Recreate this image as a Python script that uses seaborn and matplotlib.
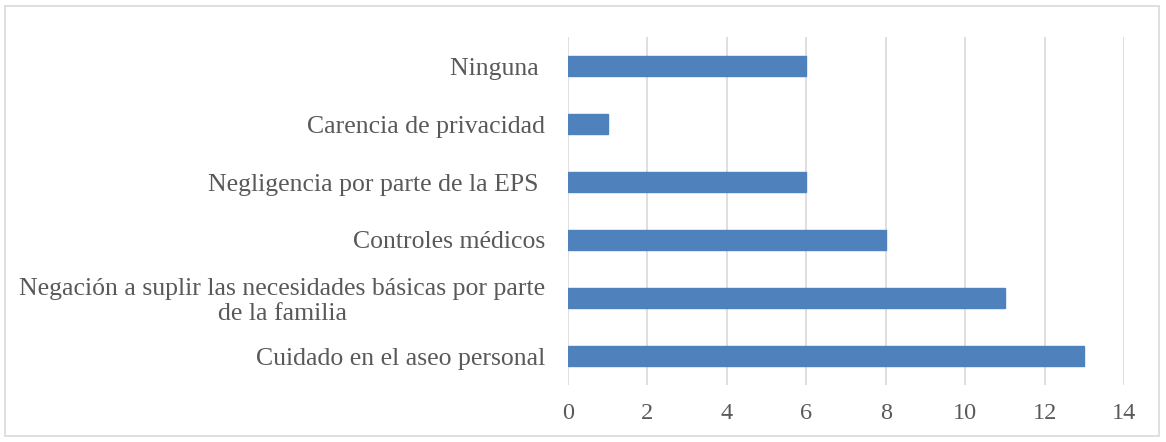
import matplotlib
matplotlib.use("Agg")
import matplotlib.pyplot as plt
import seaborn as sns
import pandas as pd
from matplotlib.patches import Rectangle

categories = [
    "Ninguna ",
    "Carencia de privacidad",
    "Negligencia por parte de la EPS ",
    "Controles médicos",
    "Negación a suplir las necesidades básicas por parte\nde la familia",
    "Cuidado en el aseo personal",
]
values = [6, 1, 6, 8, 11, 13]
x_ticks = [0, 2, 4, 6, 8, 10, 12, 14]

sns.set_theme(style="white")
plt.rcParams['font.family'] = ['Liberation Serif', 'DejaVu Serif']

df = pd.DataFrame({"cat": categories, "val": values})

fig = plt.figure(figsize=(11.66, 4.42), dpi=100)
ax = fig.add_axes([568/1166, 1-385/442, (1124-568)/1166, (385-37)/442])

sns.barplot(data=df, y="cat", x="val", orient="h", color="#4f81bd",
            width=0.345, saturation=1, ax=ax, edgecolor="#4f81bd")

ax.set_xlim(0, 14)
ax.set_xticks(x_ticks)
ax.set_xticklabels([str(t) for t in x_ticks])
ax.set_xlabel("")
ax.set_ylabel("")
ax.grid(axis="x", color="#d9d9d9", linewidth=1.2)
ax.set_axisbelow(True)
for s in ax.spines.values():
    s.set_visible(False)
ax.tick_params(axis="x", length=0, pad=13, labelsize=17.5, labelcolor="#595959")
ax.tick_params(axis="y", length=0, pad=16.5, labelsize=18.5, labelcolor="#595959")
for lbl in ax.get_yticklabels():
    lbl.set_multialignment("center")
    lbl.set_linespacing(1.12)

fig.patches.append(Rectangle((5/1166, 6/442), 1154/1166, 430/442, transform=fig.transFigure,
                             fill=False, edgecolor="#d9d9d9", linewidth=1.2))

fig.savefig("out.png", dpi=100)
